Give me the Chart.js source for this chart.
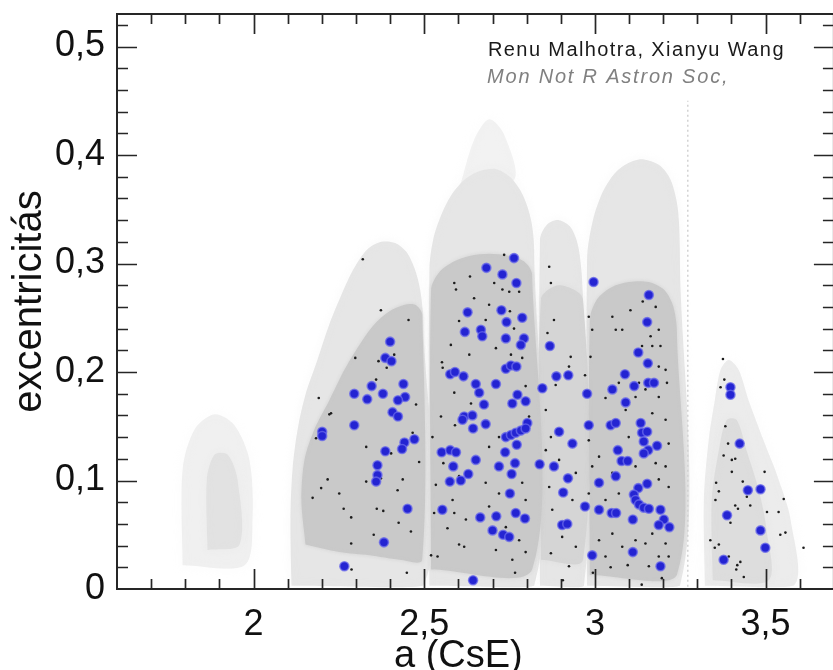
<!DOCTYPE html>
<html>
<head>
<meta charset="utf-8">
<script src="https://cdn.jsdelivr.net/npm/chart.js@4.4.1/dist/chart.umd.min.js"></script>
<style>
  html, body { margin: 0; padding: 0; background: #fff; overflow: hidden; }
  #wrap { width: 840px; height: 670px; }
</style>
</head>
<body>
<div id="wrap"><canvas id="c" width="840" height="670"></canvas></div>
<script>
// Axis ticks and labels (semi-major axis in AU, eccentricity)
const xTickValues = [2, 2.5, 3, 3.5];
const xTickLabels = ['2', '2,5', '3', '3,5'];
const yTickValues = [0, 0.1, 0.2, 0.3, 0.4, 0.5];
const yTickLabels = ['0', '0,1', '0,2', '0,3', '0,4', '0,5'];

// Outlines of the background asteroid population (a, e), drawn as filled regions
const hungariaHalo = [[1.792,0.022],[1.792,0.110],[1.827,0.147],[1.886,0.161],[1.944,0.151],[1.988,0.119],[1.997,0.064],[1.974,0.022]];
const hungariaCore = [[1.865,0.036],[1.863,0.101],[1.886,0.124],[1.924,0.124],[1.953,0.101],[1.959,0.041]];
const innerHalo = [[2.111,0.003],[2.108,0.064],[2.114,0.110],[2.129,0.147],[2.152,0.179],[2.187,0.211],[2.222,0.244],[2.257,0.271],[2.295,0.296],[2.333,0.313],[2.374,0.320],[2.415,0.319],[2.447,0.311],[2.471,0.296],[2.488,0.276],[2.497,0.248],[2.497,0.003]];
const innerCore = [[2.152,0.041],[2.140,0.082],[2.149,0.119],[2.178,0.147],[2.222,0.174],[2.266,0.202],[2.310,0.225],[2.354,0.244],[2.398,0.256],[2.442,0.262],[2.474,0.262],[2.494,0.253],[2.494,0.027],[2.427,0.027],[2.339,0.031],[2.251,0.034]];
const middleFaint = [[2.602,0.368],[2.646,0.414],[2.690,0.433],[2.734,0.419],[2.763,0.377]];
const middleHalo = [[2.515,0.003],[2.515,0.294],[2.526,0.322],[2.550,0.345],[2.579,0.363],[2.617,0.377],[2.661,0.385],[2.711,0.387],[2.754,0.379],[2.789,0.363],[2.813,0.340],[2.822,0.313],[2.822,0.003]];
const middleCore = [[2.520,0.018],[2.520,0.276],[2.544,0.292],[2.588,0.302],[2.632,0.307],[2.690,0.309],[2.749,0.307],[2.792,0.302],[2.816,0.290],[2.816,0.018]];
const pristineHalo = [[2.839,0.003],[2.839,0.322],[2.860,0.336],[2.895,0.340],[2.930,0.333],[2.953,0.313],[2.965,0.267],[2.968,0.003]];
const pristineMid = [[2.842,0.027],[2.842,0.267],[2.895,0.280],[2.965,0.267],[2.965,0.027]];
const outerHalo = [[2.977,0.003],[2.977,0.304],[2.994,0.340],[3.026,0.368],[3.070,0.387],[3.129,0.396],[3.187,0.391],[3.222,0.377],[3.243,0.350],[3.249,0.304],[3.249,0.003]];
const outerCore = [[2.985,0.013],[2.985,0.248],[3.006,0.267],[3.047,0.278],[3.099,0.283],[3.158,0.283],[3.202,0.276],[3.228,0.262],[3.240,0.239],[3.240,0.013]];
const farHalo = [[3.322,0.003],[3.319,0.082],[3.333,0.137],[3.351,0.174],[3.368,0.202],[3.392,0.211],[3.421,0.202],[3.450,0.174],[3.494,0.137],[3.538,0.101],[3.573,0.064],[3.582,0.003]];
const farCore = [[3.345,0.008],[3.342,0.082],[3.363,0.128],[3.386,0.156],[3.415,0.156],[3.444,0.128],[3.480,0.091],[3.503,0.054],[3.509,0.008]];
const resonanceStreak = [[3.272,0.002],[3.272,0.450]];

// Small black points: asteroids of the comparison sample (a, e)
const blackAsteroids = [
  [2.320,0.304],[2.373,0.257],[2.454,0.248],[2.366,0.210],[2.412,0.216],[2.390,0.204],[2.298,0.213],[2.359,0.193],[2.191,0.176],[2.227,0.162],
  [2.588,0.282],[2.593,0.276],[2.634,0.288],[2.578,0.225],[2.552,0.209],[2.554,0.204],[2.646,0.268],[2.602,0.247],[2.632,0.216],[2.588,0.181],[2.637,0.171],
  [2.222,0.161],[2.183,0.139],[2.330,0.131],[2.217,0.101],[2.198,0.093],[2.251,0.088],[2.173,0.084],[2.264,0.074],[2.330,0.099],[2.373,0.102],
  [2.422,0.091],[2.437,0.101],[2.476,0.170],[2.466,0.144],[2.403,0.125],[2.485,0.117],[2.361,0.074],[2.380,0.072],[2.286,0.066],[2.425,0.061],
  [2.461,0.053],[2.352,0.050],[2.286,0.042],[2.449,0.015],[2.524,0.140],[2.534,0.096],[2.556,0.116],[2.583,0.082],[2.588,0.070],[2.529,0.070],
  [2.602,0.041],[2.617,0.039],[2.520,0.031],[2.539,0.030],[2.568,0.056],[2.622,0.064],[2.602,0.104],[2.549,0.159],[2.590,0.151],
  [2.734,0.308],[2.749,0.274],[2.729,0.276],[2.778,0.274],[2.705,0.282],[2.690,0.262],[2.751,0.256],[2.680,0.248],[2.763,0.240],[2.710,0.222],
  [2.754,0.216],[2.787,0.213],[2.797,0.187],[2.866,0.297],[2.871,0.282],[2.880,0.248],[2.861,0.236],[2.929,0.214],[2.924,0.205],[2.885,0.188],
  [2.982,0.251],[2.992,0.239],[2.987,0.214],[2.971,0.197],[3.051,0.251],[3.080,0.239],[3.104,0.257],[3.140,0.265],[3.178,0.260],[3.187,0.239],
  [3.163,0.233],[3.168,0.224],[3.192,0.224],[3.138,0.224],[3.061,0.239],[3.187,0.205],[3.207,0.202],[3.211,0.190],[3.129,0.190],[3.148,0.184],
  [3.187,0.177],[3.119,0.177],[3.070,0.190],[3.031,0.176],
  [2.690,0.131],[2.719,0.140],[2.807,0.159],[2.680,0.098],[2.719,0.088],[2.787,0.098],[2.797,0.082],[2.690,0.076],[2.739,0.057],[2.778,0.045],
  [2.710,0.036],[2.758,0.027],[2.797,0.034],[2.856,0.165],[2.871,0.140],[2.856,0.128],[2.895,0.119],[2.866,0.094],[2.944,0.107],[2.934,0.082],
  [2.875,0.073],[2.904,0.048],[2.944,0.039],[2.871,0.033],[2.924,0.021],[2.982,0.137],[3.012,0.122],[2.992,0.113],[3.051,0.107],[2.982,0.088],
  [3.031,0.082],[3.070,0.088],[3.051,0.051],[3.012,0.045],[3.080,0.039],[3.031,0.030],[3.119,0.045],[3.148,0.042],[3.168,0.051],[3.207,0.042],
  [3.216,0.030],[3.187,0.030],[3.158,0.021],[3.090,0.165],[3.168,0.162],[3.207,0.156],[3.216,0.134],[3.207,0.113],[3.187,0.101],[3.216,0.094],
  [3.119,0.113],[3.099,0.140],[3.178,0.116],
  [3.375,0.212],[3.379,0.193],[3.368,0.186],[3.382,0.150],[3.390,0.134],[3.377,0.123],[3.401,0.119],[3.411,0.120],[3.401,0.108],[3.433,0.099],
  [3.355,0.098],[3.363,0.090],[3.353,0.082],[3.445,0.085],[3.419,0.074],[3.411,0.077],[3.455,0.077],[3.397,0.061],[3.497,0.108],[3.504,0.071],
  [3.538,0.071],[3.553,0.083],[3.543,0.050],[3.558,0.052],[3.338,0.045],[3.351,0.038],[3.363,0.041],[3.426,0.025],[3.414,0.018],[3.436,0.011],
  [3.392,0.030],[3.611,0.038],
  [2.287,0.018],[2.766,0.015],[2.906,0.008],[2.994,0.015],[3.046,0.020],[3.096,0.022],[3.137,0.004],[3.196,0.010],[3.417,0.022]
];

// Large blue points: highlighted asteroids (a, e)
const blueAsteroids = [
  [2.400,0.228],[2.386,0.213],[2.404,0.210],[2.439,0.189],[2.346,0.187],[2.295,0.180],[2.379,0.180],[2.333,0.175],[2.444,0.177],[2.423,0.174],
  [2.407,0.163],[2.423,0.159],[2.295,0.151],[2.201,0.145],[2.201,0.141],[2.471,0.138],[2.442,0.135],[2.435,0.129],[2.386,0.127],[2.363,0.114],
  [2.363,0.105],[2.359,0.099],[2.451,0.074],[2.382,0.043],[2.266,0.021],
  [2.627,0.255],[2.619,0.237],[2.576,0.198],[2.590,0.200],[2.615,0.196],[2.651,0.189],[2.661,0.181],[2.617,0.159],[2.641,0.160],[2.612,0.156],
  [2.643,0.148],[2.551,0.126],[2.576,0.128],[2.593,0.126],[2.651,0.119],[2.585,0.113],[2.629,0.106],[2.607,0.100],[2.575,0.099],[2.553,0.073],
  [2.643,0.008],
  [2.763,0.305],[2.682,0.296],[2.729,0.290],[2.770,0.282],[2.726,0.257],[2.787,0.250],[2.741,0.246],[2.666,0.239],[2.670,0.233],[2.739,0.231],
  [2.792,0.231],[2.783,0.225],[2.739,0.203],[2.754,0.206],[2.770,0.205],[2.710,0.189],[2.773,0.179],[2.758,0.171],[2.797,0.173],[2.675,0.170],
  [2.868,0.224],[2.887,0.196],[2.922,0.197],[2.846,0.185],[2.996,0.283],[2.977,0.180],
  [3.158,0.271],[3.153,0.246],[3.127,0.218],[3.155,0.208],[3.088,0.198],[3.051,0.184],[3.115,0.187],[3.156,0.190],[3.173,0.190],[3.090,0.172],
  [2.680,0.152],[2.802,0.153],[2.739,0.140],[2.754,0.142],[2.768,0.144],[2.783,0.146],[2.797,0.148],[2.771,0.133],[2.737,0.126],[2.766,0.116],
  [2.719,0.113],[2.756,0.106],[2.751,0.088],[2.768,0.070],[2.664,0.066],[2.711,0.067],[2.795,0.065],[2.700,0.054],[2.731,0.050],[2.749,0.048],
  [2.895,0.145],[2.934,0.134],[2.838,0.115],[2.880,0.113],[2.921,0.102],[2.907,0.089],[2.904,0.059],[2.919,0.060],
  [2.982,0.151],[3.046,0.151],[3.061,0.153],[3.134,0.153],[3.138,0.144],[3.153,0.145],[3.143,0.136],[3.182,0.132],[3.067,0.128],[3.156,0.128],
  [3.143,0.125],[3.078,0.118],[3.096,0.118],[3.061,0.104],[3.153,0.097],[3.127,0.093],[3.114,0.087],[3.119,0.082],[3.129,0.078],[3.143,0.075],
  [3.158,0.074],[3.012,0.098],[2.971,0.076],[3.012,0.073],[3.049,0.070],[3.062,0.070],[3.111,0.064],[3.192,0.073],[3.202,0.064],[3.187,0.059],
  [3.218,0.057],[2.992,0.031],[3.111,0.034],[3.192,0.021],
  [3.397,0.186],[3.397,0.179],[3.424,0.134],[3.448,0.091],[3.485,0.092],[3.387,0.068],[3.485,0.054],[3.499,0.038],[3.377,0.027]
];

const toXY = pts => pts.map(p => ({ x: p[0], y: p[1] }));
const closed = pts => toXY(pts.concat([pts[0]]));

const HALO = '#e6e6e6', FAINT = '#f2f2f2', MID = '#d5d5d5', CORE = '#c9c9c9';

function region(pts, color, blur) {
  return {
    data: closed(pts),
    showLine: true,
    fill: 'shape',
    backgroundColor: color,
    borderColor: color,
    borderWidth: 1,
    tension: 0.3,
    pointRadius: 0,
    pointHoverRadius: 0,
    blur: blur
  };
}

// Listed from back to front
const layers = [
  region(hungariaHalo, '#f0f0f0', 4),
  region(hungariaCore, '#e2e2e2', 3),
  region(middleFaint, FAINT, 5),
  region(innerHalo, HALO, 3.5),
  region(middleHalo, HALO, 3.5),
  region(pristineHalo, HALO, 3.5),
  region(outerHalo, HALO, 3.5),
  region(farHalo, '#ececec', 4),
  region(farCore, '#dddddd', 3),
  region(pristineMid, MID, 2),
  region(innerCore, CORE, 1.5),
  region(middleCore, CORE, 1.5),
  region(outerCore, CORE, 1.5),
  {
    data: toXY(resonanceStreak),
    showLine: true,
    fill: false,
    borderColor: '#d2d2d2',
    borderWidth: 1.5,
    borderDash: [2, 3],
    pointRadius: 0,
    pointHoverRadius: 0
  },
  {
    data: toXY(blackAsteroids),
    showLine: false,
    pointRadius: 1.3,
    pointBorderWidth: 0,
    pointBackgroundColor: '#1c1c1c',
    pointHoverRadius: 1.3
  },
  {
    data: toXY(blueAsteroids),
    showLine: false,
    pointRadius: 4.5,
    pointBorderWidth: 1.6,
    pointBackgroundColor: '#2424d2',
    pointBorderColor: 'rgba(105,105,235,0.75)',
    pointHoverRadius: 4.5
  }
];
// Higher order is painted first, so the last layer ends up on top
const datasets = layers.map((d, i) => Object.assign(d, { order: layers.length - i }));

// Soft edges for the density regions
const softEdges = {
  id: 'softEdges',
  beforeDatasetDraw(chart, args) {
    const ds = chart.data.datasets[args.index];
    if (ds.blur) { chart.ctx.save(); chart.ctx.filter = 'blur(' + ds.blur + 'px)'; }
  },
  afterDatasetDraw(chart, args) {
    const ds = chart.data.datasets[args.index];
    if (ds.blur) chart.ctx.restore();
  }
};

// Box frame with inward tick marks on all four sides, titles and credit text
const frame = {
  id: 'frame',
  afterDatasetsDraw(chart) {
    const { ctx, chartArea: a, scales: { x, y } } = chart;
    ctx.save();
    ctx.strokeStyle = '#262626';
    ctx.lineWidth = 2;
    ctx.strokeRect(a.left, a.top, a.right - a.left, a.bottom - a.top);
    ctx.lineWidth = 1.7;
    ctx.beginPath();
    for (let i = 17; i <= 36; i++) {
      const v = i / 10;
      const major = xTickValues.some(t => Math.abs(t - v) < 1e-9);
      const len = major ? 20 : 10;
      const px = Math.round(x.getPixelForValue(v)) + 0.5;
      ctx.moveTo(px, a.bottom); ctx.lineTo(px, a.bottom - len);
      ctx.moveTo(px, a.top); ctx.lineTo(px, a.top + len);
    }
    for (let i = 1; i <= 26; i++) {
      const v = i * 0.02;
      const major = i % 5 === 0;
      const len = major ? 20 : 11;
      const py = Math.round(y.getPixelForValue(v)) + 0.5;
      ctx.moveTo(a.left, py); ctx.lineTo(a.left + len, py);
      ctx.moveTo(a.right, py); ctx.lineTo(a.right - len, py);
    }
    ctx.stroke();

    ctx.fillStyle = '#111';
    ctx.font = '38px "Liberation Sans", Arial, sans-serif';
    ctx.textAlign = 'center';
    ctx.textBaseline = 'alphabetic';
    ctx.fillText('a (CsE)', x.getPixelForValue(2.6), 667);

    ctx.save();
    ctx.translate(30, (a.top + a.bottom) / 2);
    ctx.rotate(-Math.PI / 2);
    ctx.font = '40px "Liberation Sans", Arial, sans-serif';
    ctx.textBaseline = 'middle';
    ctx.fillText('excentricitás', 0, 0);
    ctx.restore();

    ctx.textAlign = 'left';
    ctx.fillStyle = '#1a1a1a';
    ctx.font = '20px "Liberation Sans", Arial, sans-serif';
    ctx.letterSpacing = '1.4px';
    ctx.fillText('Renu Malhotra, Xianyu Wang', 488, 56);
    ctx.fillStyle = '#808080';
    ctx.font = 'italic 20px "Liberation Sans", Arial, sans-serif';
    ctx.letterSpacing = '1.8px';
    ctx.fillText('Mon Not R Astron Soc,', 487, 83);
    ctx.restore();
  }
};

const noEdgePadding = s => { s.paddingTop = 0; s.paddingBottom = 0; s.paddingLeft = 0; s.paddingRight = 0; };

new Chart(document.getElementById('c'), {
  type: 'scatter',
  data: { datasets },
  options: {
    responsive: false,
    animation: false,
    events: [],
    layout: { padding: { top: 14, right: 5, left: 0, bottom: 0 } },
    plugins: { legend: { display: false }, tooltip: { enabled: false } },
    scales: {
      x: {
        type: 'linear',
        min: 1.6,
        max: 3.7,
        grid: { display: false, drawTicks: false },
        border: { display: false },
        afterFit: s => { s.height = 81; noEdgePadding(s); },
        afterBuildTicks: s => { s.ticks = xTickValues.map(v => ({ value: v })); },
        ticks: {
          padding: 14,
          color: '#111',
          font: { size: 36, family: '"Liberation Sans", Arial, sans-serif' },
          callback: (v, i) => xTickLabels[i]
        }
      },
      y: {
        type: 'linear',
        min: 0,
        max: 0.53,
        grid: { display: false, drawTicks: false },
        border: { display: false },
        afterFit: s => { s.width = 117; noEdgePadding(s); },
        afterBuildTicks: s => { s.ticks = yTickValues.map(v => ({ value: v })); },
        ticks: {
          padding: 12,
          color: '#111',
          font: { size: 36, family: '"Liberation Sans", Arial, sans-serif' },
          callback: (v, i) => yTickLabels[i]
        }
      }
    }
  },
  plugins: [softEdges, frame]
});
</script>
</body>
</html>
